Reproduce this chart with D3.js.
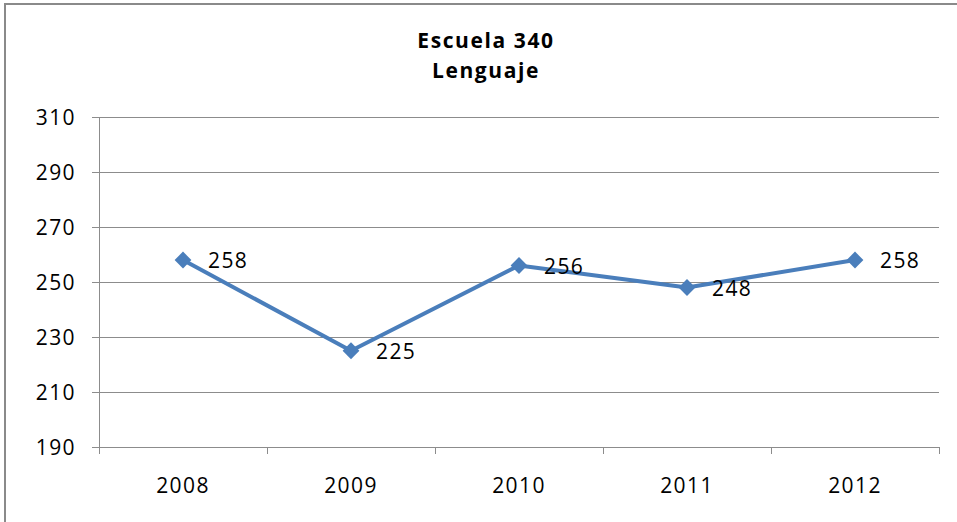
<!DOCTYPE html>
<html>
<head>
<meta charset="utf-8">
<script src="https://cdn.jsdelivr.net/npm/d3@7"></script>
<style>
  html, body { margin: 0; padding: 0; background: #fff; }
  svg { display: block; }
  text { font-family: "Open Sans", Lato, sans-serif; fill: #000; }
</style>
</head>
<body>
<svg id="chart" width="957" height="522"></svg>
<script>
const categories = ["2008", "2009", "2010", "2011", "2012"];
const values = [258, 225, 256, 248, 258];
const yTicks = [190, 210, 230, 250, 270, 290, 310];
const titleLines = ["Escuela 340", "Lenguaje"];

const svg = d3.select("#chart");
const W = 957, H = 522;
const m = { left: 99, right: 939, top: 117, bottom: 447 };

// outer border
svg.append("rect").attr("x", 5).attr("y", 4).attr("width", W + 10).attr("height", H + 10)
  .attr("fill", "none").attr("stroke", "#8a8a8a").attr("stroke-width", 2);

const x = d3.scaleBand().domain(categories).range([m.left, m.right]);
const y = d3.scaleLinear().domain([190, 310]).range([m.bottom, m.top]);

// gridlines
svg.append("g").selectAll("line").data(yTicks).join("line")
  .attr("x1", m.left - 7).attr("x2", m.right)
  .attr("y1", d => y(d) + 0.5).attr("y2", d => y(d) + 0.5)
  .attr("stroke", "#8c8c8c").attr("stroke-width", 1);

// y axis line
svg.append("line").attr("x1", m.left + 0.5).attr("x2", m.left + 0.5)
  .attr("y1", m.top).attr("y2", m.bottom)
  .attr("stroke", "#8c8c8c");

// x axis ticks at band boundaries
const bounds = categories.map(c => x(c)).concat([m.right]);
svg.append("g").selectAll("line").data(bounds).join("line")
  .attr("x1", d => d + 0.5).attr("x2", d => d + 0.5)
  .attr("y1", m.bottom).attr("y2", m.bottom + 7)
  .attr("stroke", "#8c8c8c");

const fs = 21, ls = 1.4;

// y tick labels
svg.append("g").selectAll("text").data(yTicks).join("text")
  .attr("x", 76).attr("y", d => y(d) + 7.5)
  .attr("text-anchor", "end").attr("font-size", fs).attr("letter-spacing", ls).text(d => d);

// x tick labels
svg.append("g").selectAll("text").data(categories).join("text")
  .attr("x", d => x(d) + x.bandwidth() / 2).attr("y", 493)
  .attr("text-anchor", "middle").attr("font-size", fs).attr("letter-spacing", ls).text(d => d);

// title
svg.append("g").selectAll("text").data(titleLines).join("text")
  .attr("x", 486).attr("y", (d, i) => 48 + i * 30)
  .attr("text-anchor", "middle").attr("font-size", 21).attr("font-weight", "bold")
  .attr("letter-spacing", 1.6)
  .text(d => d);

const cx = d => x(d) + x.bandwidth() / 2;
const line = d3.line().x((d, i) => cx(categories[i])).y(d => y(d));
svg.append("path").datum(values).attr("d", line)
  .attr("fill", "none").attr("stroke", "#4a7ebb").attr("stroke-width", 4)
  .attr("stroke-linejoin", "round");

svg.append("g").selectAll("path").data(values).join("path")
  .attr("transform", (d, i) => `translate(${cx(categories[i])},${y(d)})`)
  .attr("d", d3.symbol(d3.symbolDiamond2, 180)())
  .attr("fill", "#4a7ebb");

// data labels
svg.append("g").selectAll("text").data(values).join("text")
  .attr("x", (d, i) => cx(categories[i]) + 25).attr("y", d => y(d) + 8)
  .attr("font-size", fs).attr("letter-spacing", ls).text(d => d);
</script>
</body>
</html>
